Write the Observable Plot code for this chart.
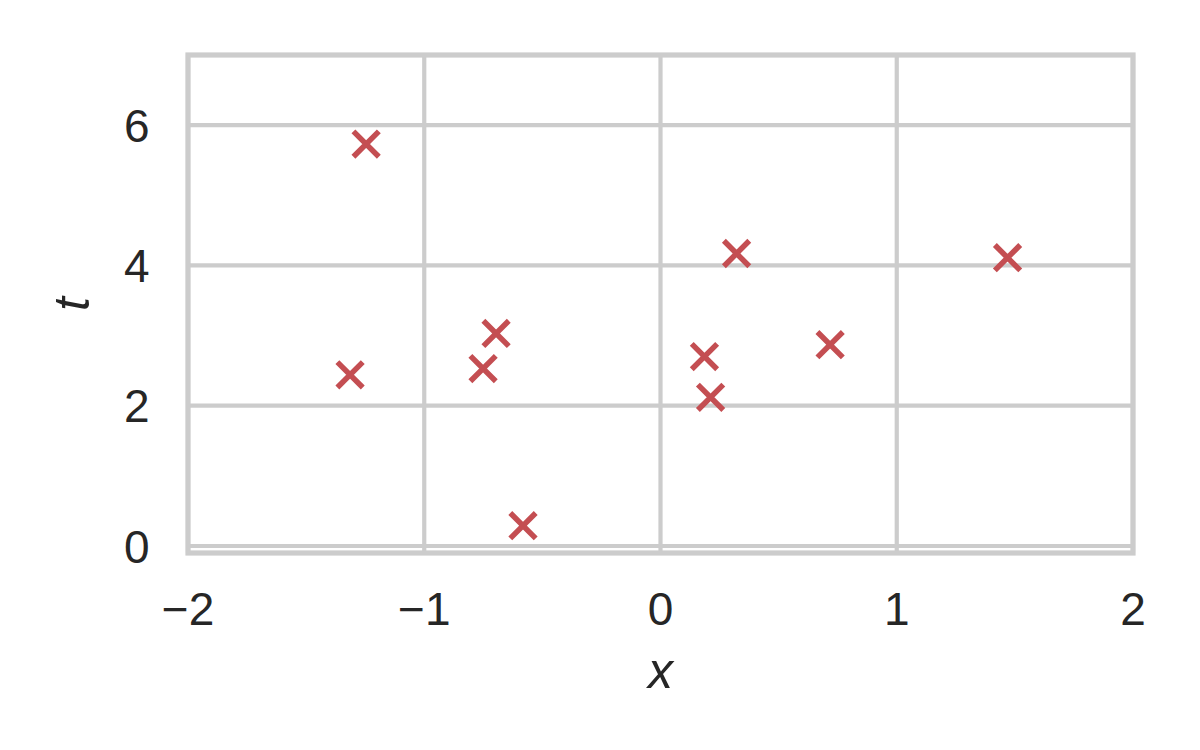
<!DOCTYPE html>
<html>
<head>
<meta charset="utf-8">
<script src="https://cdn.jsdelivr.net/npm/d3@7"></script>
<script src="https://cdn.jsdelivr.net/npm/@observablehq/plot@0.6"></script>
<style>
  html, body { margin: 0; padding: 0; background: #ffffff; }
  #chart { width: 1200px; height: 750px; }
</style>
</head>
<body>
<div id="chart"></div>
<script>
// Data
const xValues = [-1.246, -1.314, -0.751, -0.696, -0.582, 0.186, 0.212, 0.322, 0.718, 1.469];
const tValues = [5.73, 2.44, 2.53, 3.03, 0.29, 2.70, 2.12, 4.17, 2.87, 4.11];
const xTicks = [-2, -1, 0, 1, 2];
const yTicks = [0, 2, 4, 6];
const xLabel = "x";
const yLabel = "t";

const points = xValues.map((x, i) => ({x, t: tValues[i]}));
const fmt = d3.format("d");
const textColor = "#262626";
const gridColor = "#cccccc";

const chart = Plot.plot({
  width: 1200,
  height: 750,
  marginLeft: 187.5,
  marginRight: 67.5,
  marginTop: 54.5,
  marginBottom: 197.5,
  x: {domain: [-2, 2]},
  y: {domain: [-0.1, 7.0]},
  style: {
    fontFamily: "Arial, 'Liberation Sans', sans-serif",
    color: textColor,
    background: "#ffffff"
  },
  marks: [
    Plot.gridX(xTicks, {stroke: gridColor, strokeOpacity: 1, strokeWidth: 4.2}),
    Plot.gridY(yTicks, {stroke: gridColor, strokeOpacity: 1, strokeWidth: 4.2}),
    Plot.frame({stroke: gridColor, strokeWidth: 5.2}),
    Plot.axisX(xTicks, {
      tickSize: 0, tickPadding: 39, fontSize: 46, fill: textColor,
      tickFormat: fmt, label: null
    }),
    Plot.axisY(yTicks, {
      tickSize: 0, tickPadding: 38.5, fontSize: 46, fill: textColor,
      tickFormat: fmt, label: null, dy: 2
    }),
    Plot.text([xLabel], {
      frameAnchor: "bottom", lineAnchor: "bottom", textAnchor: "middle",
      dy: 135, fontSize: 50, fontStyle: "italic", fill: textColor
    }),
    Plot.text([yLabel], {
      frameAnchor: "left", lineAnchor: "bottom", textAnchor: "middle",
      rotate: -90, dx: -99.5, fontSize: 50, fontStyle: "italic", fill: textColor
    }),
    Plot.dot(points, {
      x: "x", y: "t", symbol: "times", r: 11.6,
      stroke: "#c44e52", strokeWidth: 5.5
    })
  ]
});

document.getElementById("chart").appendChild(chart);
</script>
</body>
</html>
